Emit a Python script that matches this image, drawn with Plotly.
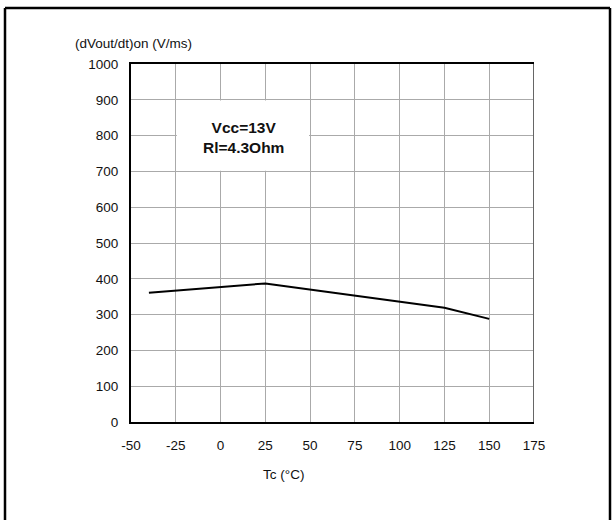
import plotly.graph_objects as go

# Data
tc_values = [-40, 25, 125, 150]
slope_values = [361, 387, 319, 288]
x_ticks = [-50, -25, 0, 25, 50, 75, 100, 125, 150, 175]
y_ticks = [0, 100, 200, 300, 400, 500, 600, 700, 800, 900, 1000]
note_lines = ["Vcc=13V", "Rl=4.3Ohm"]
y_title = "(dVout/dt)on (V/ms)"
x_title = "Tc (°C)"

W, H = 615, 520
L, R, T, B = 131, 81, 64, 98
PW, PH = W - L - R, H - T - B


def px(xp):
    return (xp - L) / PW


def py(yp):
    return 1 - (yp - T) / PH


FONT = "Liberation Sans, Arial, sans-serif"

fig = go.Figure()
fig.add_trace(go.Scatter(x=tc_values, y=slope_values, mode="lines",
                         line=dict(color="black", width=2), showlegend=False,
                         hoverinfo="skip"))

fig.update_layout(
    width=W, height=H,
    margin=dict(l=L, r=R, t=T, b=B, pad=0),
    paper_bgcolor="white", plot_bgcolor="white",
    font=dict(family=FONT, size=13.5, color="#111"),
    xaxis=dict(range=[-50, 175], tickvals=x_ticks, ticktext=[str(v) for v in x_ticks],
               showgrid=True, gridcolor="#aaaaaa", gridwidth=1,
               showline=True, linecolor="black", linewidth=2, mirror=True,
               ticks="outside", ticklen=10, tickcolor="rgba(0,0,0,0)",
               zeroline=False, fixedrange=True),
    yaxis=dict(range=[0, 1000], tickvals=y_ticks, ticktext=[str(v) for v in y_ticks],
               showgrid=True, gridcolor="#aaaaaa", gridwidth=1,
               showline=True, linecolor="black", linewidth=2,
               ticks="outside", ticklen=8, tickcolor="rgba(0,0,0,0)",
               zeroline=False, fixedrange=True),
)

shapes = []
# white note box covering grid
shapes.append(dict(type="rect", xref="x", yref="y", x0=-24.4, x1=49.4, y0=702, y1=898,
                   fillcolor="white", line=dict(width=0), layer="above"))
# right border of plot area (grey)
shapes.append(dict(type="line", xref="x", yref="y", x0=175, x1=175, y0=0, y1=1000,
                   line=dict(color="#666666", width=2), layer="above"))
# outer frame
fx0, fx1, fy0 = px(5), px(610), py(8)
shapes.append(dict(type="line", xref="paper", yref="paper", x0=fx0, x1=fx1, y0=fy0, y1=fy0,
                   line=dict(color="black", width=2.5)))
shapes.append(dict(type="line", xref="paper", yref="paper", x0=fx0, x1=fx0, y0=fy0, y1=py(530),
                   line=dict(color="black", width=2.5)))
shapes.append(dict(type="line", xref="paper", yref="paper", x0=fx1, x1=fx1, y0=fy0, y1=py(530),
                   line=dict(color="black", width=2.5)))
fig.update_layout(shapes=shapes)

annotations = [
    dict(x=px(73), y=py(44), xref="paper", yref="paper", text=y_title, showarrow=False,
         xanchor="left", yanchor="middle", font=dict(size=13.5, family=FONT, color="#111")),
    dict(x=px(283), y=py(474), xref="paper", yref="paper", text=x_title, showarrow=False,
         xanchor="center", yanchor="middle", font=dict(size=13.5, family=FONT, color="#111")),
    dict(x=px(243), y=py(137), xref="paper", yref="paper",
         text="<b>" + note_lines[0] + "</b><br><b>" + note_lines[1] + "</b>",
         showarrow=False, xanchor="center", yanchor="middle", align="center",
         font=dict(size=15.5, family=FONT, color="#111")),
]
fig.update_layout(annotations=annotations)

fig.write_html("out.html", config={"displayModeBar": False},
               post_script="document.body.style.margin='0';document.body.style.overflow='hidden';")
